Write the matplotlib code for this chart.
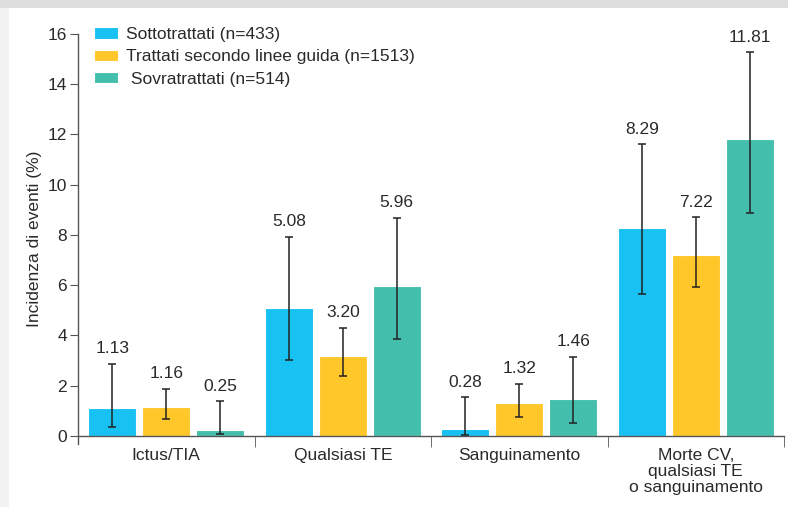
import numpy as np
import matplotlib
matplotlib.use('Agg')
import matplotlib.pyplot as plt
from matplotlib.patches import Rectangle

# Dati
categorie = ['Ictus/TIA', 'Qualsiasi TE', 'Sanguinamento', 'Morte CV,\nqualsiasi TE\no sanguinamento']
serie = ['Sottotrattati (n=433)', 'Trattati secondo linee guida (n=1513)', ' Sovratrattati (n=514)']
colori = ['#17c1f1', '#ffc72a', '#45bfad']

sotto = [1.13, 5.08, 0.28, 8.29]
linee_guida = [1.16, 3.20, 1.32, 7.22]
sovra = [0.25, 5.96, 1.46, 11.81]

# intervalli (limite inferiore, superiore)
sotto_lo = [0.35, 3.03, 0.04, 5.66]
sotto_hi = [2.88, 7.93, 1.54, 11.61]
lg_lo = [0.69, 2.39, 0.77, 5.92]
lg_hi = [1.87, 4.31, 2.07, 8.70]
sovra_lo = [0.08, 3.86, 0.52, 8.87]
sovra_hi = [1.38, 8.69, 3.15, 15.27]

valori = [sotto, linee_guida, sovra]
bassi = [sotto_lo, lg_lo, sovra_lo]
alti = [sotto_hi, lg_hi, sovra_hi]

plt.rcParams['font.family'] = ['Liberation Sans', 'DejaVu Sans']
testo = '#2a2a2a'
fs = 12.5

fig = plt.figure(figsize=(7.88, 5.07), dpi=100)
fig.patches.append(Rectangle((0, 1 - 8 / 507), 1, 8 / 507, transform=fig.transFigure,
                             facecolor='#dddddd', edgecolor='none', zorder=-1))
fig.patches.append(Rectangle((0, 0), 9 / 788, 1 - 8 / 507, transform=fig.transFigure,
                             facecolor='#f2f2f2', edgecolor='none', zorder=-1))

ax = fig.add_axes([78 / 788, 1 - 444 / 507, 706 / 788, (444 - 34) / 507])

x = np.arange(len(categorie))
larghezza = 0.272
passo = 0.306

for i, (v, lo, hi) in enumerate(zip(valori, bassi, alti)):
    pos = x + (i - 1) * passo
    v = np.array(v)
    err = [v - np.array(lo), np.array(hi) - v]
    ax.bar(pos, v, width=larghezza, color=colori[i], edgecolor='white', linewidth=0.8,
           label=serie[i], zorder=2)
    ax.errorbar(pos, v, yerr=err, fmt='none', ecolor='#222222', elinewidth=1.1,
                capsize=3, capthick=1.1, zorder=3)
    for p, val, h in zip(pos, v, hi):
        ax.annotate(f'{val:.2f}', (p, h), xytext=(0, 5.5), textcoords='offset points',
                    ha='center', va='bottom', fontsize=fs, color=testo)

ax.set_xlim(-0.5, 3.5)
ax.set_ylim(-0.32, 16)
ax.spines['top'].set_visible(False)
ax.spines['right'].set_visible(False)
ax.spines['bottom'].set_position(('data', 0))
for s in ['left', 'bottom']:
    ax.spines[s].set_color('#555555')
    ax.spines[s].set_linewidth(1.0)

ax.set_yticks(range(0, 17, 2))
ax.tick_params(axis='y', direction='out', length=6, color='#555555', labelsize=fs,
               labelcolor=testo, pad=2)

ax.set_xticks(x)
ax.set_xticklabels(categorie, fontsize=fs, color=testo, linespacing=1.05)
ax.tick_params(axis='x', which='major', length=0, pad=9)
ax.set_xticks(np.arange(0.5, 4, 1), minor=True)
ax.tick_params(axis='x', which='minor', direction='out', length=8, color='#555555')

ax.set_ylabel('Incidenza di eventi (%)', fontsize=fs, color=testo, labelpad=4)

leg = ax.legend(loc='upper left', bbox_to_anchor=(0.0, 1.055), frameon=False,
                fontsize=fs, handlelength=1.4, handleheight=0.63, handletextpad=0.45,
                labelspacing=0.42, labelcolor=testo)

fig.savefig('out.png', dpi=100, facecolor='white')
